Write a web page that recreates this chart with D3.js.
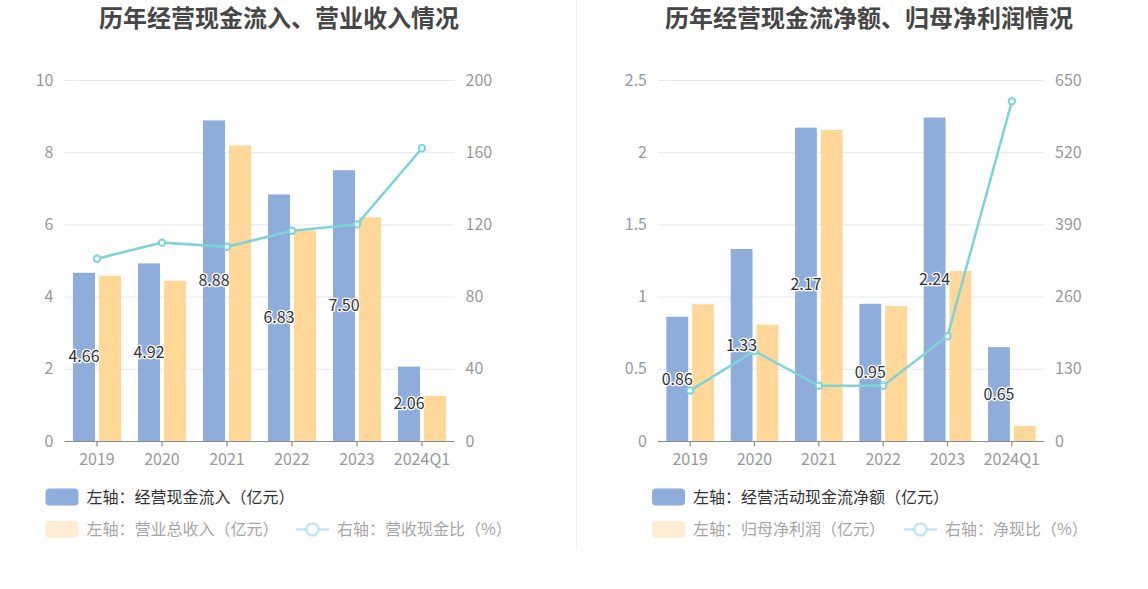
<!DOCTYPE html>
<html><head><meta charset="utf-8">
<script src="https://cdn.jsdelivr.net/npm/d3@7/dist/d3.min.js"></script>
<style>
html,body{margin:0;padding:0;background:#fff;}
svg{display:block;font-family:"Noto Sans CJK SC","Noto Sans",sans-serif;}
</style></head>
<body>
<svg id="c" width="1148" height="589"></svg>
<script>
const categories = ["2019","2020","2021","2022","2023","2024Q1"];
// Left chart
const cashInflow = [4.66, 4.92, 8.88, 6.83, 7.50, 2.06];
const revenue = [4.58, 4.44, 8.19, 5.83, 6.20, 1.25];
const cashRevenueRatio = [101.0, 109.9, 107.6, 116.5, 120.0, 162.2];
const leftTicksL = [0, 2, 4, 6, 8, 10];
const leftTicksR = [0, 40, 80, 120, 160, 200];
// Right chart
const netCashFlow = [0.86, 1.33, 2.17, 0.95, 2.24, 0.65];
const netProfit = [0.947, 0.806, 2.154, 0.935, 1.177, 0.104];
const netCashRatio = [90.8, 162.0, 99.5, 99.5, 188.5, 611.6];
const rightTicksL = [0, 0.5, 1, 1.5, 2, 2.5];
const rightTicksR = [0, 130, 260, 390, 520, 650];

const C_BLUE = "#8eaddb", C_ORANGE = "#ffd899", C_LINE = "#7dd3d6";
const svg = d3.select("#c");

// divider
svg.append("line").attr("x1",576.5).attr("x2",576.5).attr("y1",0).attr("y2",550)
  .attr("stroke","#eeeeee").attr("stroke-width",1);

function drawChart(cfg){
  const g = svg.append("g");
  const x0 = d3.scaleBand().domain(categories).range([cfg.x0, cfg.x1]).paddingInner(0.26).paddingOuter(0.13);
  const x1 = d3.scaleBand().domain(["a","b"]).range([0, x0.bandwidth()]).paddingInner(0.154);
  const yL = d3.scaleLinear().domain([0, cfg.ticksL[cfg.ticksL.length-1]]).range([441, 80]);
  const yR = d3.scaleLinear().domain([0, cfg.ticksR[cfg.ticksR.length-1]]).range([441, 80]);
  const xc = d => x0(d) + x0.bandwidth()/2;

  // title
  g.append("text").attr("x", cfg.titleX).attr("y", 27).attr("text-anchor","middle")
    .attr("font-size", 24).attr("font-weight","bold").attr("fill","#464646").text(cfg.title);

  // grid
  g.selectAll(".grid").data(cfg.ticksL.slice(1)).join("line")
    .attr("x1", cfg.x0).attr("x2", cfg.x1).attr("y1", d=>yL(d)+0.5).attr("y2", d=>yL(d)+0.5)
    .attr("stroke","#e3e7f1").attr("stroke-width",1);

  // axis labels
  g.selectAll(".tl").data(cfg.ticksL).join("text")
    .attr("x", cfg.x0 - 11).attr("y", d=>yL(d)).attr("dy","0.35em").attr("text-anchor","end")
    .attr("font-size",16).attr("fill","#999").text(d=>d);
  g.selectAll(".tr").data(cfg.ticksR).join("text")
    .attr("x", cfg.x1 + 11).attr("y", d=>yR(d)).attr("dy","0.35em").attr("text-anchor","start")
    .attr("font-size",16).attr("fill","#999").text(d=>d);

  // bars
  g.selectAll(".b1").data(categories).join("rect")
    .attr("x", (d)=>x0(d)+x1("a")).attr("width", x1.bandwidth())
    .attr("y", (d,i)=>yL(cfg.bar1[i])).attr("height",(d,i)=>yL(0)-yL(cfg.bar1[i]))
    .attr("fill", C_BLUE);
  g.selectAll(".b2").data(categories).join("rect")
    .attr("x", (d)=>x0(d)+x1("b")).attr("width", x1.bandwidth())
    .attr("y", (d,i)=>yL(cfg.bar2[i])).attr("height",(d,i)=>yL(0)-yL(cfg.bar2[i]))
    .attr("fill", C_ORANGE);

  // x axis
  g.append("line").attr("x1",cfg.x0).attr("x2",cfg.x1).attr("y1",441.5).attr("y2",441.5)
    .attr("stroke","#8c8c8c").attr("stroke-width",1.2);
  g.selectAll(".xt").data(categories).join("line")
    .attr("x1", d=>xc(d)).attr("x2", d=>xc(d)).attr("y1",441.5).attr("y2",446.5)
    .attr("stroke","#8c8c8c").attr("stroke-width",1.2);
  g.selectAll(".xl").data(categories).join("text")
    .attr("x", d=>xc(d)).attr("y", 459).attr("dy","0.35em").attr("text-anchor","middle")
    .attr("font-size",16).attr("fill","#999").text(d=>d);

  // line
  const line = d3.line().x((d,i)=>xc(categories[i])).y(d=>yR(d));
  g.append("path").attr("d", line(cfg.ratio)).attr("fill","none")
    .attr("stroke", C_LINE).attr("stroke-width",2.5);
  g.selectAll(".pt").data(cfg.ratio).join("circle")
    .attr("cx",(d,i)=>xc(categories[i])).attr("cy", d=>yR(d)).attr("r",3.2)
    .attr("fill","#fff").attr("stroke",C_LINE).attr("stroke-width",2);

  // labels
  g.selectAll(".lb").data(cfg.bar1).join("text")
    .attr("x",(d,i)=>x0(categories[i])+x1("a")+x1.bandwidth()/2)
    .attr("y", d=>(yL(d)+yL(0))/2).attr("dy","0.35em").attr("text-anchor","middle")
    .attr("font-size",16).attr("fill","#333")
    .attr("stroke","#fff").attr("stroke-width",2.5).attr("paint-order","stroke")
    .attr("stroke-linejoin","round")
    .text(d=>d.toFixed(2));

  // legend
  const L = cfg.legend;
  g.append("rect").attr("x",L.x).attr("y",488.5).attr("width",33).attr("height",17).attr("rx",4)
    .attr("fill",C_BLUE);
  g.append("text").attr("x",L.x+41).attr("y",497).attr("dy","0.35em").attr("font-size",16)
    .attr("fill","#333").text(L.t1);
  g.append("rect").attr("x",L.x).attr("y",521).attr("width",33).attr("height",17).attr("rx",4)
    .attr("fill","#ffedd3");
  g.append("text").attr("x",L.x+41).attr("y",529.5).attr("dy","0.35em").attr("font-size",16)
    .attr("fill","#a6a6a6").text(L.t2);
  g.append("line").attr("x1",L.lx).attr("x2",L.lx+33).attr("y1",529.5).attr("y2",529.5)
    .attr("stroke","#bfe9eb").attr("stroke-width",2.5);
  g.append("circle").attr("cx",L.lx+16.5).attr("cy",529.5).attr("r",6)
    .attr("fill","#fff").attr("stroke","#bfe9eb").attr("stroke-width",2.5);
  g.append("text").attr("x",L.lx+41).attr("y",529.5).attr("dy","0.35em").attr("font-size",16)
    .attr("fill","#a6a6a6").text(L.t3);
}

drawChart({
  title:"历年经营现金流入、营业收入情况", titleX:279,
  x0:64.5, x1:454.5, ticksL:leftTicksL, ticksR:leftTicksR,
  bar1:cashInflow, bar2:revenue, ratio:cashRevenueRatio,
  legend:{x:45.5, lx:296, t1:"左轴：经营现金流入（亿元）", t2:"左轴：营业总收入（亿元）", t3:"右轴：营收现金比（%）"}
});
drawChart({
  title:"历年经营现金流净额、归母净利润情况", titleX:869,
  x0:658, x1:1044, ticksL:rightTicksL, ticksR:rightTicksR,
  bar1:netCashFlow, bar2:netProfit, ratio:netCashRatio,
  legend:{x:652, lx:904, t1:"左轴：经营活动现金流净额（亿元）", t2:"左轴：归母净利润（亿元）", t3:"右轴：净现比（%）"}
});
</script>
</body></html>
